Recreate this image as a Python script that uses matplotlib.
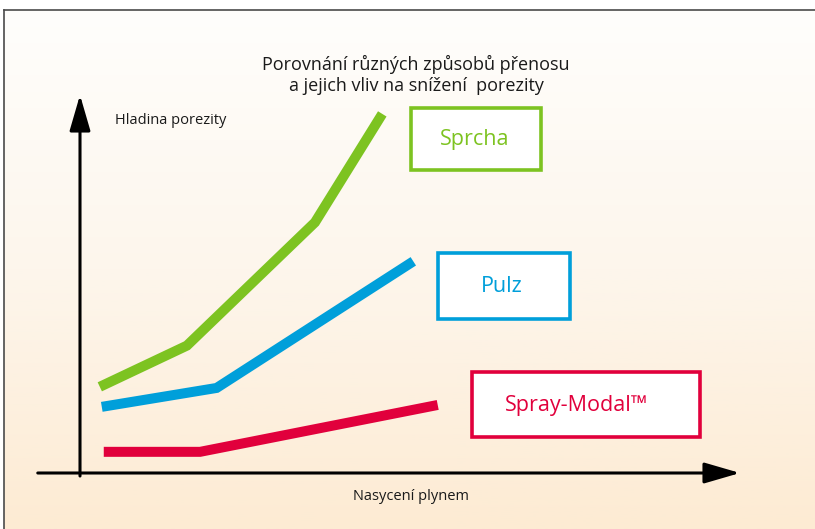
import numpy as np
import matplotlib.pyplot as plt
from matplotlib.patches import Rectangle
from matplotlib.colors import LinearSegmentedColormap

plt.rcParams['font.family'] = ['Open Sans', 'DejaVu Sans']

# series (arbitrary units: x = gas saturation, y = porosity level)
sprcha_x = [0.30, 1.62, 3.56, 4.58]
sprcha_y = [2.28, 3.37, 6.63, 9.50]
pulz_x = [0.33, 2.07, 5.05]
pulz_y = [1.75, 2.25, 5.60]
spray_x = [0.36, 1.82, 5.42]
spray_y = [0.56, 0.56, 1.80]

labels = ['Sprcha', 'Pulz', 'Spray-Modal™']
colors = ['#7dc321', '#009fda', '#e1003c']

W, H = 815, 529
fig = plt.figure(figsize=(W / 100, H / 100), dpi=100)

def px(x, y):
    # pixel position (top-left origin) -> figure fraction
    return x / W, 1 - y / H

# background gradient inside a frame
bg = fig.add_axes([0, 0, 1, 1])
bg.set_xlim(0, W)
bg.set_ylim(H, 0)
bg.axis('off')
cmap = LinearSegmentedColormap.from_list('bg', ['#fffefc', '#fdf6ec', '#fdebd3'])
grad = np.linspace(0, 1, 256).reshape(-1, 1)
bg.imshow(grad, cmap=cmap, aspect='auto', extent=[4, W, H, 10], zorder=0)
bg.plot([4, W], [10, 10], color='#4a4a4a', lw=1.2, zorder=1)
bg.plot([4, 4], [10, H], color='#4a4a4a', lw=1.2, zorder=1)

# boxes with labels (box x, y, w, h in pixels, text centre)
boxes = [(411, 108, 130, 62, 475), (438, 253, 132, 66, 502), (472, 372, 228, 65, 577)]
for (bx, by, bw, bh, tx), lab, c in zip(boxes, labels, colors):
    bg.add_patch(Rectangle((bx, by), bw, bh, facecolor='white', edgecolor=c,
                           lw=2.6, zorder=2))
    bg.text(tx, by + bh / 2 + 1, lab, color=c, fontsize=15.5,
            ha='center', va='center', zorder=3)

# texts
bg.text(416, 75, 'Porovnání různých způsobů přenosu\na jejich vliv na snížení  porezity',
        ha='center', va='center', fontsize=13, color='#1a1a1a', linespacing=1.2)
bg.text(115, 120, 'Hladina porezity', ha='left', va='center', fontsize=10.5, color='#1a1a1a')
bg.text(411, 496, 'Nasycení plynem', ha='center', va='center', fontsize=10.5, color='#1a1a1a')

# data axes: origin at pixel (80, 473), arrows end at x=740, y=95
x0, y0, x1, y1 = px(80, 473) + px(740, 95)
ax = fig.add_axes([x0, y0, x1 - x0, y1 - y0])
ax.set_xlim(0, 10)
ax.set_ylim(0, 10)
ax.patch.set_alpha(0)
ax.axis('off')

for xs, ys, c in zip([sprcha_x, pulz_x, spray_x], [sprcha_y, pulz_y, spray_y], colors):
    ax.plot(xs, ys, color=c, lw=7.2, solid_capstyle='butt', solid_joinstyle='miter',
            zorder=3, clip_on=False)

arrow = dict(arrowstyle='-|>,head_length=1.1,head_width=0.32', lw=2.2, color='black',
             mutation_scale=20, shrinkA=0, shrinkB=0)
ax.annotate('', xy=(0, 10), xytext=(0, -0.08), arrowprops=arrow, annotation_clip=False)
ax.annotate('', xy=(10, 0), xytext=(-0.64, 0), arrowprops=arrow, annotation_clip=False)

fig.savefig('out.png', dpi=100)
